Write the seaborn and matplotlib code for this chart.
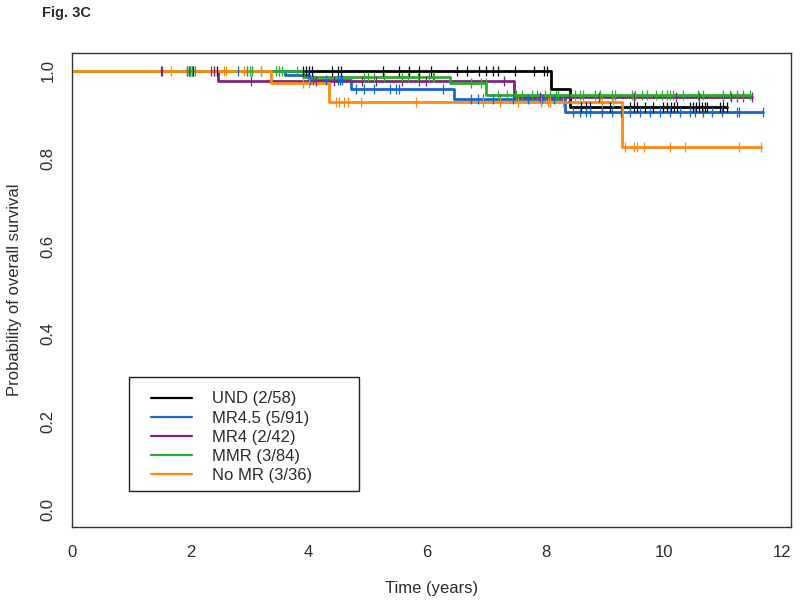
import numpy as np
import pandas as pd
import matplotlib
matplotlib.use("Agg")
import matplotlib.pyplot as plt
from matplotlib.lines import Line2D
from matplotlib.patches import Rectangle
import seaborn as sns

# Groups and legend labels
groups = ["UND", "MR4.5", "MR4", "MMR", "No MR"]
labels = ["UND (2/58)", "MR4.5 (5/91)", "MR4 (2/42)", "MMR (3/84)", "No MR (3/36)"]
colors = ["#000000", "#1766cc", "#80267e", "#2eaa2e", "#ff8a12"]

# Event (death) times in years and survival level after each event
und_events = [8.10, 8.42]
und_surv = [0.958, 0.917]
mr45_events = [3.60, 4.00, 4.71, 6.45, 8.33]
mr45_surv = [0.989, 0.978, 0.957, 0.935, 0.905]
mr4_events = [2.46, 7.47]
mr4_surv = [0.976, 0.940]
mmr_events = [3.90, 6.38, 7.00]
mmr_surv = [0.986, 0.972, 0.945]
nomr_events = [3.37, 4.35, 9.30]
nomr_surv = [0.972, 0.929, 0.826]

# Censoring times (years)
und_cens = [1.95, 2.00, 2.05, 2.45, 3.90, 3.95, 4.00, 4.05, 4.40, 4.50, 4.55,
            5.25, 5.52, 5.70, 5.86, 6.06, 6.50, 6.67, 6.87, 6.99, 7.12, 7.20,
            7.48, 7.80, 7.98, 8.03, 8.60, 8.68, 8.76, 8.96, 9.09, 9.43, 9.50,
            9.55, 9.68, 9.81, 9.99, 10.05, 10.12, 10.18, 10.22, 10.45, 10.50,
            10.55, 10.60, 10.65, 10.70, 10.73, 10.95, 11.00, 11.07]
mr45_cens = [1.95, 2.40, 2.80, 2.95, 3.05, 3.20, 3.50, 3.98, 4.03, 4.08, 4.29,
             4.49, 4.53, 4.57, 4.80, 4.94, 5.10, 5.37, 5.47, 5.52, 6.27, 6.74,
             6.86, 6.94, 7.12, 7.24, 7.46, 7.70, 7.95, 8.15, 8.47, 8.59, 8.68,
             8.76, 8.96, 9.13, 9.27, 9.43, 9.60, 9.77, 9.94, 10.11, 10.27,
             10.44, 10.53, 10.66, 10.81, 10.98, 11.24, 11.27, 11.68]
mr4_cens = [1.50, 1.52, 1.98, 2.02, 2.35, 2.40, 3.03, 4.13, 4.42, 4.90, 5.14,
            5.57, 5.87, 5.99, 7.30, 7.90, 8.40, 8.90, 9.50, 10.20, 10.60,
            11.00, 11.13, 11.24, 11.34, 11.49]
mmr_cens = [1.95, 2.00, 2.03, 2.07, 2.95, 3.00, 3.05, 3.45, 3.50, 3.55, 3.80,
            4.94, 5.00, 5.10, 5.28, 5.57, 5.68, 5.85, 6.04, 6.10, 6.12, 6.74,
            6.91, 6.99, 7.20, 7.35, 7.50, 7.60, 7.78, 7.86, 8.00, 8.08, 8.17,
            8.22, 8.50, 8.59, 8.64, 8.84, 8.93, 9.13, 9.18, 9.47, 9.52, 9.64,
            9.72, 9.86, 9.97, 10.06, 10.11, 10.16, 10.33, 10.57, 10.67, 11.00,
            11.12, 11.24, 11.34, 11.45]
nomr_cens = [1.67, 2.56, 2.60, 2.90, 3.20, 3.90, 4.00, 4.46, 4.51, 4.59, 4.66,
             4.88, 5.81, 6.94, 7.24, 7.53, 7.92, 8.05, 8.08, 8.30, 8.96, 9.15,
             9.35, 9.49, 9.55, 9.67, 10.11, 10.36, 11.27, 11.65]

events = [und_events, mr45_events, mr4_events, mmr_events, nomr_events]
levels = [und_surv, mr45_surv, mr4_surv, mmr_surv, nomr_surv]
censors = [und_cens, mr45_cens, mr4_cens, mmr_cens, nomr_cens]

# Build step tables
curve_rows = []
cens_rows = []
for g, ev, sv, cs in zip(groups, events, levels, censors):
    t = [0.0] + ev + [max(cs)]
    s = [1.0] + sv + [sv[-1]]
    for ti, si in zip(t, s):
        curve_rows.append({"group": g, "time": ti, "surv": si})
    lv = np.array([1.0] + sv)
    idx = np.searchsorted(np.array(ev), np.array(cs), side="right")
    for ci, li in zip(cs, lv[idx]):
        cens_rows.append({"group": g, "time": ci, "surv": li})
curves = pd.DataFrame(curve_rows)
cens = pd.DataFrame(cens_rows)

sns.set_style("white")
plt.rcParams["font.family"] = ["Liberation Sans", "DejaVu Sans"]
txt = "#2b2b2b"

fig = plt.figure(figsize=(8, 6.02), dpi=100)
ax = fig.add_axes([0.09, 0.1246, 0.8988, 0.7874])

pal = dict(zip(groups, colors))
sns.lineplot(data=curves, x="time", y="surv", hue="group", palette=pal,
             drawstyle="steps-post", estimator=None, sort=False,
             legend=False, lw=2.0, ax=ax)
for g in groups:
    sub = cens[cens["group"] == g]
    ax.plot(sub["time"], sub["surv"], linestyle="none", marker="|",
            markersize=7.5, markeredgewidth=0.9, color=pal[g])

ax.set_xlim(0, 12.15)
ax.set_ylim(-0.04, 1.04)
ax.set_xticks([0, 2, 4, 6, 8, 10, 12])
ax.set_yticks([0.0, 0.2, 0.4, 0.6, 0.8, 1.0])
ax.set_yticklabels(["0.0", "0.2", "0.4", "0.6", "0.8", "1.0"])
plt.setp(ax.get_yticklabels(), rotation=90, va="center")
ax.tick_params(axis="both", direction="out", length=7, width=0.8,
               colors="#333333", labelsize=12, labelcolor=txt)
ax.tick_params(axis="x", pad=6)
ax.tick_params(axis="y", pad=5)
ax.set_xlabel("Time (years)", fontsize=12, color=txt, labelpad=15)
ax.set_ylabel("Probability of overall survival", fontsize=12, color=txt, labelpad=13)
for sp in ax.spines.values():
    sp.set_visible(True)
    sp.set_color("#333333")
    sp.set_linewidth(1.0)

# legend box drawn separately, legend entries placed inside
ax.add_patch(Rectangle((0.0793, 0.076), 0.32, 0.2405, transform=ax.transAxes,
                       fill=True, facecolor="white", edgecolor="#222222",
                       lw=1.0, zorder=4))
handles = [Line2D([0], [0], color=c, lw=1.6) for c in colors]
leg = ax.legend(handles, labels, loc="upper left",
                bbox_to_anchor=(0.1099, 0.286), frameon=False,
                fontsize=12, handlelength=2.45, handletextpad=1.2,
                borderpad=0, labelspacing=0.25, borderaxespad=0)
leg.set_zorder(5)
for t in leg.get_texts():
    t.set_color(txt)

fig.text(0.0525, 0.978, "Fig. 3C", fontsize=10.5, fontweight="bold",
         color=txt, ha="left", va="center")

fig.savefig("out.png", dpi=100)
